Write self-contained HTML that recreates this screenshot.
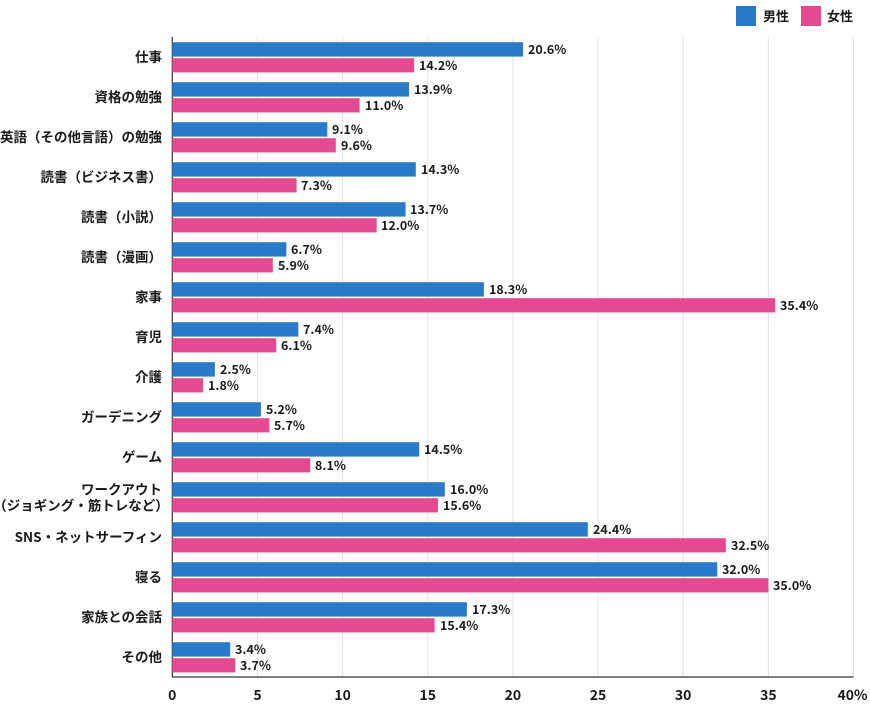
<!DOCTYPE html>
<html>
<head>
<meta charset="utf-8">
<style>
html,body{margin:0;padding:0;background:#fff;}
svg{display:block;}
text{font-family:"Liberation Sans","Noto Sans CJK JP",sans-serif;fill:#1a1a1a;}
.cat{font-family:"Noto Sans CJK JP","Liberation Sans",sans-serif;font-size:13.5px;font-weight:bold;}
.val{font-family:"Noto Sans CJK JP","Liberation Sans",sans-serif;font-size:12.5px;font-weight:bold;}
.tick{font-family:"Noto Sans CJK JP","Liberation Sans",sans-serif;font-size:14px;font-weight:bold;}
.leg{font-family:"Noto Sans CJK JP","Liberation Sans",sans-serif;font-size:13px;font-weight:bold;}
.h{font-feature-settings:"halt";}
</style>
</head>
<body>
<svg width="870" height="710" viewBox="0 0 870 710" xmlns="http://www.w3.org/2000/svg">
<!-- legend -->
<rect x="736" y="6" width="20" height="20" fill="#2a7aca"/>
<text class="leg" x="763" y="21">男性</text>
<rect x="801" y="6" width="20" height="20" fill="#e5498f"/>
<text class="leg" x="827" y="21">女性</text>

<!-- grid -->
<g stroke="#e2e2e2" stroke-width="1">
<line x1="257.45" y1="37" x2="257.45" y2="677"/>
<line x1="342.6" y1="37" x2="342.6" y2="677"/>
<line x1="427.75" y1="37" x2="427.75" y2="677"/>
<line x1="512.9" y1="37" x2="512.9" y2="677"/>
<line x1="598.05" y1="37" x2="598.05" y2="677"/>
<line x1="683.2" y1="37" x2="683.2" y2="677"/>
<line x1="768.35" y1="37" x2="768.35" y2="677"/>
<line x1="853.5" y1="37" x2="853.5" y2="677"/>
</g>

<!-- axes -->
<line x1="172.3" y1="37" x2="172.3" y2="677.5" stroke="#333" stroke-width="1.2"/>
<line x1="172" y1="677" x2="853.5" y2="677" stroke="#333" stroke-width="1.2"/>

<!-- ticks -->
<g text-anchor="middle">
<text class="tick" x="172.3" y="700">0</text>
<text class="tick" x="257.45" y="700">5</text>
<text class="tick" x="342.6" y="700">10</text>
<text class="tick" x="427.75" y="700">15</text>
<text class="tick" x="512.9" y="700">20</text>
<text class="tick" x="598.05" y="700">25</text>
<text class="tick" x="683.2" y="700">30</text>
<text class="tick" x="768.35" y="700">35</text>
<text class="tick" x="852.5" y="700">40%</text>
</g>

<g text-anchor="end">
<text class="cat" x="162" y="61.8">仕事</text>
<text class="cat" x="162" y="101.8">資格の勉強</text>
<text class="cat" x="162" y="141.8">英語（その他言語）の勉強</text>
<text class="cat" x="162" y="181.8">読書（ビジネス書）</text>
<text class="cat" x="162" y="221.8">読書（小説）</text>
<text class="cat" x="162" y="261.8">読書（漫画）</text>
<text class="cat" x="162" y="301.8">家事</text>
<text class="cat" x="162" y="341.8">育児</text>
<text class="cat" x="162" y="381.8">介護</text>
<text class="cat" x="162" y="421.8">ガーデニング</text>
<text class="cat" x="162" y="461.8">ゲーム</text>
<text class="cat" x="162" y="494.5">ワークアウト</text>
<text class="cat" x="162" y="510.5"><tspan class="h">（</tspan>ジョギング・筋トレなど<tspan class="h">）</tspan></text>
<text class="cat" x="162" y="541.8">SNS・ネットサーフィン</text>
<text class="cat" x="162" y="581.8">寝る</text>
<text class="cat" x="162" y="621.8">家族との会話</text>
<text class="cat" x="162" y="661.8">その他</text>
</g>

<!-- bars: x0=172.3, 17.03 px per % -->
<g>
<rect x="172.3" y="42.2" width="350.8" height="14.4" fill="#2a7aca"/><rect x="172.3" y="58.2" width="241.8" height="14.2" fill="#e5498f"/>
<rect x="172.3" y="82.2" width="236.7" height="14.4" fill="#2a7aca"/><rect x="172.3" y="98.2" width="187.3" height="14.2" fill="#e5498f"/>
<rect x="172.3" y="122.2" width="155.0" height="14.4" fill="#2a7aca"/><rect x="172.3" y="138.2" width="163.5" height="14.2" fill="#e5498f"/>
<rect x="172.3" y="162.2" width="243.5" height="14.4" fill="#2a7aca"/><rect x="172.3" y="178.2" width="124.3" height="14.2" fill="#e5498f"/>
<rect x="172.3" y="202.2" width="233.3" height="14.4" fill="#2a7aca"/><rect x="172.3" y="218.2" width="204.4" height="14.2" fill="#e5498f"/>
<rect x="172.3" y="242.2" width="114.1" height="14.4" fill="#2a7aca"/><rect x="172.3" y="258.2" width="100.5" height="14.2" fill="#e5498f"/>
<rect x="172.3" y="282.2" width="311.6" height="14.4" fill="#2a7aca"/><rect x="172.3" y="298.2" width="602.9" height="14.2" fill="#e5498f"/>
<rect x="172.3" y="322.2" width="126.0" height="14.4" fill="#2a7aca"/><rect x="172.3" y="338.2" width="103.9" height="14.2" fill="#e5498f"/>
<rect x="172.3" y="362.2" width="42.6" height="14.4" fill="#2a7aca"/><rect x="172.3" y="378.2" width="30.7" height="14.2" fill="#e5498f"/>
<rect x="172.3" y="402.2" width="88.6" height="14.4" fill="#2a7aca"/><rect x="172.3" y="418.2" width="97.1" height="14.2" fill="#e5498f"/>
<rect x="172.3" y="442.2" width="246.9" height="14.4" fill="#2a7aca"/><rect x="172.3" y="458.2" width="137.9" height="14.2" fill="#e5498f"/>
<rect x="172.3" y="482.2" width="272.5" height="14.4" fill="#2a7aca"/><rect x="172.3" y="498.2" width="265.7" height="14.2" fill="#e5498f"/>
<rect x="172.3" y="522.2" width="415.5" height="14.4" fill="#2a7aca"/><rect x="172.3" y="538.2" width="553.5" height="14.2" fill="#e5498f"/>
<rect x="172.3" y="562.2" width="545.0" height="14.4" fill="#2a7aca"/><rect x="172.3" y="578.2" width="596.1" height="14.2" fill="#e5498f"/>
<rect x="172.3" y="602.2" width="294.6" height="14.4" fill="#2a7aca"/><rect x="172.3" y="618.2" width="262.3" height="14.2" fill="#e5498f"/>
<rect x="172.3" y="642.2" width="57.9" height="14.4" fill="#2a7aca"/><rect x="172.3" y="658.2" width="63.0" height="14.2" fill="#e5498f"/>
</g>

<!-- value labels -->
<g>
<text class="val" x="528" y="54">20.6%</text><text class="val" x="419" y="70">14.2%</text>
<text class="val" x="414" y="94">13.9%</text><text class="val" x="365" y="110">11.0%</text>
<text class="val" x="332" y="134">9.1%</text><text class="val" x="341" y="150">9.6%</text>
<text class="val" x="421" y="174">14.3%</text><text class="val" x="301" y="190">7.3%</text>
<text class="val" x="410" y="214">13.7%</text><text class="val" x="381" y="230">12.0%</text>
<text class="val" x="291" y="254">6.7%</text><text class="val" x="278" y="270">5.9%</text>
<text class="val" x="489" y="294">18.3%</text><text class="val" x="780" y="310">35.4%</text>
<text class="val" x="303" y="334">7.4%</text><text class="val" x="281" y="350">6.1%</text>
<text class="val" x="220" y="374">2.5%</text><text class="val" x="208" y="390">1.8%</text>
<text class="val" x="266" y="414">5.2%</text><text class="val" x="274" y="430">5.7%</text>
<text class="val" x="424" y="454">14.5%</text><text class="val" x="315" y="470">8.1%</text>
<text class="val" x="450" y="494">16.0%</text><text class="val" x="443" y="510">15.6%</text>
<text class="val" x="593" y="534">24.4%</text><text class="val" x="731" y="550">32.5%</text>
<text class="val" x="722" y="574">32.0%</text><text class="val" x="773" y="590">35.0%</text>
<text class="val" x="472" y="614">17.3%</text><text class="val" x="440" y="630">15.4%</text>
<text class="val" x="235" y="654">3.4%</text><text class="val" x="240" y="670">3.7%</text>
</g>
</svg>
</body>
</html>
